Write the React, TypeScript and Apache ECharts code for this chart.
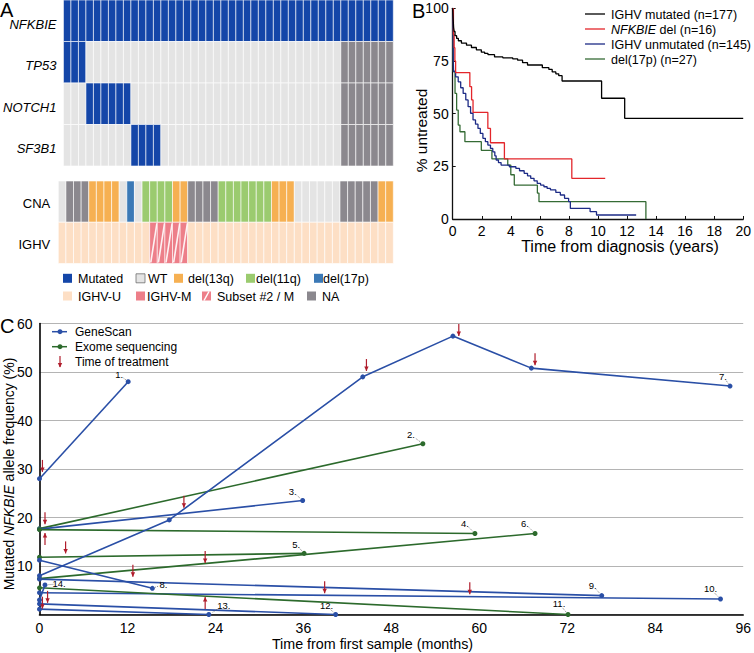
import React, { useEffect, useRef } from "react";
import * as echarts from "echarts";

// ---------------- Panel A data ----------------
const GENES = ["NFKBIE", "TP53", "NOTCH1", "SF3B1"];
const CNA_IGHV_ROWS = ["CNA", "IGHV"];
// run-length encoded status per sample (44 samples)
const ROW_NFKBIE: [string, number][] = [["M", 44]];
const ROW_TP53: [string, number][] = [["M", 3], ["W", 34], ["N", 7]];
const ROW_NOTCH1: [string, number][] = [["W", 3], ["M", 6], ["W", 28], ["N", 7]];
const ROW_SF3B1: [string, number][] = [["W", 9], ["M", 4], ["W", 24], ["N", 7]];
const ROW_CNA: [string, number][] = [
  ["W", 1], ["N", 3], ["D13", 4], ["W", 1], ["D17", 1], ["W", 1], ["D11", 4], ["D13", 2],
  ["N", 4], ["D11", 7], ["D13", 3], ["W", 6], ["N", 5], ["D13", 2],
];
const ROW_IGHV: [string, number][] = [["U", 12], ["S", 5], ["U", 27]];
const CODE_LIST = ["M", "W", "N", "D13", "D11", "D17", "U", "IM", "S"];

// ---------------- Panel B data (time in years, % untreated) ----------------
const KM_IGHV_MUT = [
  [0, 100], [0.03, 95], [0.06, 91], [0.1, 89], [0.16, 87], [0.27, 85.7], [0.39, 84.6], [0.6, 83.5],
  [0.95, 82.5], [1.29, 81.4], [1.63, 80.3], [1.97, 79.2], [2.2, 78.6], [2.43, 78], [2.88, 76.9],
  [3.45, 76.5], [4.13, 76], [4.47, 75.4], [4.81, 74.2], [5.15, 73.1], [6.17, 71.8], [6.62, 71],
  [6.85, 69.8], [7.1, 68.9], [7.3, 68], [7.53, 65.5], [10.25, 57.3], [11.84, 47.8], [20, 47.8],
];
const KM_NFKBIE_DEL = [
  [0, 100], [0.05, 87.5], [0.1, 81.3], [0.15, 75], [0.2, 69.5], [1.18, 62.8], [1.3, 56.5],
  [1.4, 50.6], [2.42, 43], [2.6, 36.2], [3.56, 28.5], [8.2, 19.3], [10.5, 19.3],
];
const KM_IGHV_UNMUT = [
  [0, 100], [0.02, 90], [0.04, 75], [0.06, 70], [0.2, 67.5], [0.38, 65.1], [0.55, 62.3],
  [0.72, 59.6], [0.9, 56.5], [1.06, 53.3], [1.23, 50.2], [1.4, 47], [1.57, 45], [1.74, 43],
  [1.9, 40.6], [2.08, 38.3], [2.25, 36.7], [2.42, 35.1], [2.6, 33.5], [2.76, 31.9], [2.9, 30],
  [2.99, 28], [3.15, 26.8], [3.33, 25.6], [3.9, 24.8], [4.35, 24], [4.6, 22.9], [4.92, 21.7],
  [5.15, 20.5], [5.37, 19.3], [5.6, 18.1], [5.82, 16.9], [6.05, 16.1], [6.28, 15.3], [6.5, 14.5],
  [6.73, 13.8], [7.1, 12.6], [7.41, 11.4], [7.7, 9.8], [7.98, 8.2], [8.1, 5.0], [9.46, 3.5],
  [9.9, 1.9], [12.63, 1.9],
];
const KM_DEL17P = [
  [0, 100], [0.02, 85], [0.04, 70], [0.16, 59.6], [0.27, 51.7], [0.38, 44.6], [0.5, 41.4],
  [0.84, 36.7], [1.97, 32.6], [2.7, 28.5], [3.79, 25.6], [4.0, 21], [4.24, 16.1], [5.83, 12.3],
  [5.94, 8.2], [13.3, 0],
];
const KM_NAMES = ["IGHV mutated (n=177)", "NFKBIE del (n=16)", "IGHV unmutated (n=145)", "del(17p) (n=27)"];

// ---------------- Panel C data (months, % allele frequency) ----------------
const P1 = [[0, 28], [12.1, 48]];
const P2 = [[0, 17.7], [52.3, 35.2]];
const P3 = [[0, 17.6], [35.9, 23.5]];
const P4 = [[0, 17.5], [59.4, 16.7]];
const P5 = [[0, 11.8], [36.1, 12.6]];
const P6 = [[0, 7.4], [67.6, 16.7]];
const P7 = [[0, 8.0], [17.7, 19.5], [44.1, 49.0], [56.4, 57.4], [67.1, 50.8], [94.2, 47.1]];
const P8 = [[0, 11.2], [15.4, 5.4]];
const P9 = [[0, 7.3], [76.7, 3.9]];
const P10 = [[0, 4.5], [92.9, 3.2]];
const P11 = [[0, 5.5], [72.1, 0]];
const P12 = [[0, 2.2], [40.4, 0]];
const P13 = [[0, 1.1], [23.1, 0]];
const P14 = [[0, 3.0], [0.75, 6.1]];
const PATIENTS = [P1, P2, P3, P4, P5, P6, P7, P8, P9, P10, P11, P12, P13, P14];
// G = GeneScan, E = Exome sequencing
const PATIENT_METHOD = ["G", "E", "G", "E", "E", "E", "G", "G", "G", "G", "E", "G", "G", "G"];
// [month, tip value, direction: 1 = pointing down, -1 = pointing up]
const TREATMENT_ARROWS = [
  [0.4, 29.4, 1], [0.75, 18.6, 1], [0.75, 16.8, -1], [3.56, 12.6, 1], [12.74, 7.8, 1],
  [19.7, 22.0, 1], [22.6, 10.6, 1], [22.6, 3.6, -1], [38.9, 4.4, 1], [44.6, 50.2, 1],
  [57.2, 57.4, 1], [67.6, 51.4, 1], [58.7, 4.2, 1], [0.4, 1.2, 1], [1.1, 2.4, 1],
];

// ---------------- styles ----------------
const FONT = '"Liberation Sans", Arial, Helvetica, sans-serif';
const CELL_COLORS: Record<string, string> = {
  M: "#1446a8", W: "#e4e4e4", N: "#8b888e", D13: "#f6b052", D11: "#9bcb6f",
  D17: "#3b79b6", U: "#fddfc5", IM: "#ed7f89", S: "#ed7f89",
};
const KM_COLORS = ["#000000", "#e3262b", "#1d2b86", "#356b35"];
const BLUE = "#2a4fa6";
const GREEN = "#2c6a2c";
const RED = "#b01d2c";
const LABEL_OFFSETS = [
  [-9, -7], [-12, -9], [-10, -9], [-10, -10], [-8, -9], [-10, -10], [-7, -10],
  [11, -4], [-9, -10], [-10, -10], [-9, -11], [-9, -9], [15, -9], [14, -1],
];

function expand(row: [string, number][]) {
  const out: string[] = [];
  row.forEach(([c, n]) => { for (let i = 0; i < n; i++) out.push(c); });
  return out;
}

function cellData(rows: [string, number][][]) {
  const data: number[][] = [];
  rows.forEach((r, ri) => {
    expand(r).forEach((c, ci) => data.push([ci, ri, CODE_LIST.indexOf(c)]));
  });
  return data;
}

const renderCell = (params: any, api: any) => {
  const c = api.coord([api.value(0), api.value(1)]);
  const s = api.size([1, 1]);
  const code = CODE_LIST[api.value(2)];
  const x = c[0] - s[0] / 2;
  const y = c[1] - s[1] / 2;
  const children: any[] = [
    {
      type: "rect",
      shape: { x, y, width: s[0], height: s[1] },
      style: { fill: CELL_COLORS[code], stroke: "rgba(255,255,255,0.75)", lineWidth: 0.8 },
    },
  ];
  if (code === "S") {
    children.push({
      type: "line",
      shape: { x1: x + s[0] * 0.15, y1: y + s[1] - 1, x2: x + s[0] * 0.95, y2: y + 1 },
      style: { stroke: "rgba(255,255,255,0.9)", lineWidth: 1.6 },
    });
  }
  return { type: "group", children };
};

const txt = (x: number, y: number, text: string, size: number, extra: any = {}) => ({
  type: "text",
  x,
  y,
  ...(extra.el || {}),
  style: {
    text,
    fontSize: size,
    fontFamily: FONT,
    fill: "#000",
    align: extra.align || "left",
    verticalAlign: "middle",
    textAlign: extra.align || "left",
    textVerticalAlign: "middle",
    ...(extra.style || {}),
  },
});

export default function App() {
  const ref = useRef<HTMLDivElement>(null);
  useEffect(() => {
    if (!ref.current) return;
    const chart = echarts.init(ref.current, null, { renderer: "svg" });
    const samples = expand(ROW_NFKBIE).map((_, i) => String(i + 1));

    const axisNone = { show: false };
    const graphic: any[] = [];
    // panel letters
    graphic.push(txt(0, 10, "A", 20));
    graphic.push(txt(412, 10.5, "B", 20));
    graphic.push(txt(0, 326, "C", 20));

    // Panel A legend
    const legA1: [string, string, number, number][] = [
      ["M", "Mutated", 63, 78], ["W", "WT", 136, 148], ["D13", "del(13q)", 174, 188],
      ["D11", "del(11q)", 246, 256], ["D17", "del(17p)", 314, 323],
    ];
    const legA2: [string, string, number, number][] = [
      ["U", "IGHV-U", 63, 78], ["IM", "IGHV-M", 136, 147], ["S", "Subset #2 / M", 202, 217], ["N", "NA", 307, 322],
    ];
    const addLeg = (items: [string, string, number, number][], yc: number) => {
      items.forEach(([code, label, sx, tx]) => {
        graphic.push({
          type: "rect",
          shape: { x: sx, y: yc - 4.5, width: 9, height: 9 },
          style: { fill: CELL_COLORS[code], stroke: code === "W" ? "#6e6e6e" : null, lineWidth: 0.8 },
        });
        if (code === "S") {
          graphic.push({
            type: "line",
            shape: { x1: sx + 2, y1: yc + 4.5, x2: sx + 7, y2: yc - 4.5 },
            style: { stroke: "#fff", lineWidth: 1.5 },
          });
        }
        graphic.push(txt(tx, yc + 0.5, label, 12.5));
      });
    };
    addLeg(legA1, 278.3);
    addLeg(legA2, 296);

    // Panel B legend
    KM_NAMES.forEach((n, i) => {
      const yc = 14 + i * 15;
      graphic.push({
        type: "line",
        shape: { x1: 585, y1: yc, x2: 605, y2: yc },
        style: { stroke: KM_COLORS[i], lineWidth: 1.3 },
      });
      if (i === 1) {
        graphic.push({
          type: "text",
          x: 611,
          y: yc + 0.5,
          style: {
            text: "{i|NFKBIE}{t| del (n=16)}",
            rich: {
              i: { fontStyle: "italic", fontSize: 12.5, fontFamily: FONT, fill: "#000" },
              t: { fontSize: 12.5, fontFamily: FONT, fill: "#000" },
            },
            fontSize: 12.5,
            fontFamily: FONT,
            verticalAlign: "middle",
            textVerticalAlign: "middle",
          },
        });
      } else {
        graphic.push(txt(611, yc + 0.5, n, 12.5));
      }
    });
    // Panel B axis names
    graphic.push(txt(620, 246.5, "Time from diagnosis (years)", 16, { align: "center" }));
    graphic.push(txt(421, 130.5, "% untreated", 15.5, { align: "center", el: { rotation: Math.PI / 2 } }));

    // Panel C legend
    [["GeneScan", BLUE, 331.7], ["Exome sequencing", GREEN, 346.7]].forEach(([t, col, yc]: any) => {
      graphic.push({ type: "line", shape: { x1: 52, y1: yc, x2: 67, y2: yc }, style: { stroke: col, lineWidth: 1.5 } });
      graphic.push({ type: "circle", shape: { cx: 60, cy: yc, r: 2.5 }, style: { fill: col } });
      graphic.push(txt(75, yc + 0.5, t, 12));
    });
    graphic.push({ type: "line", shape: { x1: 60, y1: 356, x2: 60, y2: 367 }, style: { stroke: RED, lineWidth: 1.2 } });
    graphic.push({ type: "polygon", shape: { points: [[57.8, 363], [60, 367.5], [62.2, 363]] }, style: { fill: RED } });
    graphic.push(txt(75, 362.2, "Time of treatment", 12));

    // Panel C axis names
    graphic.push(txt(372.5, 644, "Time from first sample (months)", 14.3, { align: "center" }));
    graphic.push({
      type: "text",
      x: 8.5,
      y: 474,
      rotation: Math.PI / 2,
      style: {
        text: "{t|Mutated }{i|NFKBIE}{t| allele frequency (%)}",
        rich: {
          i: { fontStyle: "italic", fontSize: 14, fontFamily: FONT, fill: "#000" },
          t: { fontSize: 14, fontFamily: FONT, fill: "#000" },
        },
        fontSize: 14,
        fontFamily: FONT,
        align: "center",
        textAlign: "center",
        verticalAlign: "middle",
        textVerticalAlign: "middle",
      },
    });

    const patientSeries = PATIENTS.map((d, i) => ({
      type: "line",
      name: "Patient " + (i + 1),
      xAxisIndex: 3,
      yAxisIndex: 3,
      data: d,
      symbol: "circle",
      symbolSize: 5,
      showSymbol: true,
      color: PATIENT_METHOD[i] === "G" ? BLUE : GREEN,
      lineStyle: { width: 1.6, color: PATIENT_METHOD[i] === "G" ? BLUE : GREEN },
      itemStyle: { color: PATIENT_METHOD[i] === "G" ? BLUE : GREEN },
      z: 3,
    }));

    const labelData = PATIENTS.map((d, i) => [d[d.length - 1][0], d[d.length - 1][1], i]);

    const option: any = {
      animation: false,
      textStyle: { fontFamily: FONT },
      grid: [
        { left: 58.3, top: 0, width: 335, height: 166 },
        { left: 58.3, top: 181, width: 335, height: 82.5 },
        { left: 452.7, top: 8.3, width: 294, height: 210.7 },
        { left: 39.5, top: 323.5, width: 707, height: 291 },
      ],
      xAxis: [
        { gridIndex: 0, type: "category", data: samples, ...axisNone },
        { gridIndex: 1, type: "category", data: samples, ...axisNone },
        {
          gridIndex: 2, type: "value", min: 0, max: 20, interval: 2,
          axisLine: { show: true, lineStyle: { color: "#111", width: 1.3 } },
          axisTick: { show: true, inside: true, length: 3, lineStyle: { color: "#111" } },
          axisLabel: { fontSize: 14, color: "#000", margin: 5, fontFamily: FONT },
          splitLine: { show: false },
        },
        {
          gridIndex: 3, type: "value", min: 0, max: 96, interval: 12,
          axisLine: { show: true, lineStyle: { color: "#000", width: 1.6 } },
          axisTick: { show: false },
          axisLabel: { fontSize: 14, color: "#000", margin: 6, fontFamily: FONT },
          splitLine: { show: false },
        },
      ],
      yAxis: [
        {
          gridIndex: 0, type: "category", data: GENES, inverse: true,
          axisLine: { show: false }, axisTick: { show: false },
          axisLabel: {
            color: "#000", margin: 7,
            formatter: (v: string) => `{g|${v}}`,
            rich: { g: { fontSize: 13, fontStyle: "italic", fontFamily: FONT, color: "#000", padding: [7, 0, 0, 0] } },
          },
        },
        {
          gridIndex: 1, type: "category", data: CNA_IGHV_ROWS, inverse: true,
          axisLine: { show: false }, axisTick: { show: false },
          axisLabel: {
            color: "#000", margin: 8,
            formatter: (v: string) => `{g|${v}}`,
            rich: { g: { fontSize: 13, fontFamily: FONT, color: "#000", padding: [3, 0, 0, 0] } },
          },
        },
        {
          gridIndex: 2, type: "value", min: 0, max: 100, interval: 25,
          axisLine: { show: true, lineStyle: { color: "#111", width: 1.3 } },
          axisTick: { show: true, inside: true, length: 3, lineStyle: { color: "#111" } },
          axisLabel: { fontSize: 14, color: "#000", margin: 4, fontFamily: FONT },
          splitLine: { show: false },
        },
        {
          gridIndex: 3, type: "value", min: 0, max: 60, interval: 10,
          axisLine: { show: true, lineStyle: { color: "#000", width: 1.6 } },
          axisTick: { show: false },
          axisLabel: { fontSize: 14, color: "#000", margin: 7, showMinLabel: false, fontFamily: FONT },
          splitLine: { show: true, lineStyle: { color: "#b4b4b4", width: 1 } },
        },
      ],
      series: [
        {
          type: "custom", xAxisIndex: 0, yAxisIndex: 0,
          data: cellData([ROW_NFKBIE, ROW_TP53, ROW_NOTCH1, ROW_SF3B1]),
          renderItem: renderCell,
        },
        {
          type: "custom", xAxisIndex: 1, yAxisIndex: 1,
          data: cellData([ROW_CNA, ROW_IGHV]),
          renderItem: renderCell,
        },
        ...[KM_IGHV_MUT, KM_NFKBIE_DEL, KM_IGHV_UNMUT, KM_DEL17P].map((d, i) => ({
          type: "line", name: KM_NAMES[i], xAxisIndex: 2, yAxisIndex: 2, data: d, step: "end",
          showSymbol: false, symbol: "none", lineStyle: { width: 1.3, color: KM_COLORS[i] }, color: KM_COLORS[i],
          z: 4 - i,
        })),
        ...patientSeries,
        {
          type: "custom", xAxisIndex: 3, yAxisIndex: 3, data: TREATMENT_ARROWS, z: 5,
          renderItem: (params: any, api: any) => {
            const p = api.coord([api.value(0), api.value(1)]);
            const dir = api.value(2);
            const L = 12;
            return {
              type: "group",
              children: [
                { type: "line", shape: { x1: p[0], y1: p[1] - dir * L, x2: p[0], y2: p[1] }, style: { stroke: RED, lineWidth: 1.2 } },
                {
                  type: "polygon",
                  shape: { points: [[p[0] - 2.2, p[1] - dir * 4.5], [p[0], p[1]], [p[0] + 2.2, p[1] - dir * 4.5]] },
                  style: { fill: RED },
                },
              ],
            };
          },
        },
        {
          type: "custom", xAxisIndex: 3, yAxisIndex: 3, data: labelData, z: 6,
          renderItem: (params: any, api: any) => {
            const p = api.coord([api.value(0), api.value(1)]);
            const idx = api.value(2);
            const o = LABEL_OFFSETS[idx];
            return {
              type: "group",
              children: [
                {
                  type: "line",
                  shape: { x1: p[0] + o[0] * 0.25, y1: p[1] + o[1] * 0.25, x2: p[0] + o[0] * 0.6, y2: p[1] + o[1] * 0.6 },
                  style: { stroke: "#555", lineWidth: 0.7, lineDash: [1, 1] },
                },
                {
                  type: "text",
                  x: p[0] + o[0],
                  y: p[1] + o[1],
                  style: {
                    text: idx + 1 + ".", fontSize: 9.5, fontFamily: FONT, fill: "#000",
                    align: "center", verticalAlign: "middle", textAlign: "center", textVerticalAlign: "middle",
                  },
                },
              ],
            };
          },
        },
      ],
      graphic,
    };
    chart.setOption(option);
    return () => chart.dispose();
  }, []);
  return (
    <div
      ref={ref}
      style={{ position: "fixed", left: 0, top: 0, width: 754, height: 653, background: "#fff" }}
    />
  );
}
